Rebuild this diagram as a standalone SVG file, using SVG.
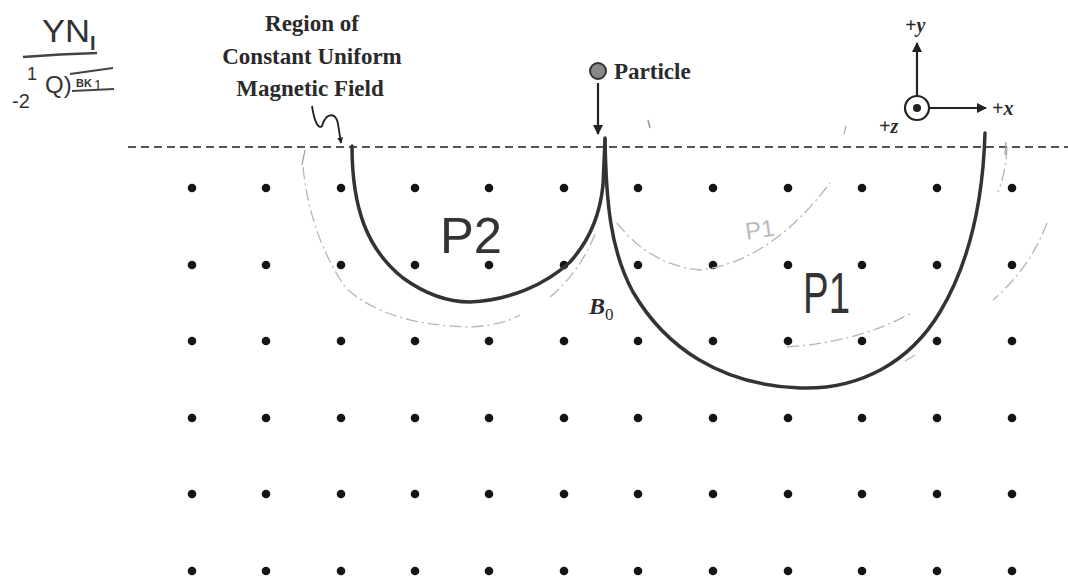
<svg xmlns="http://www.w3.org/2000/svg" width="1068" height="580" viewBox="0 0 1068 580">
<style>
.lbl{font-family:"Liberation Serif",serif;font-weight:bold;font-size:23px;fill:#2a2a2a}
.ax{font-family:"Liberation Serif",serif;font-style:italic;font-weight:bold;font-size:20px;fill:#2a2a2a}
.hand{font-family:"Liberation Sans",sans-serif;fill:#333}
.path{fill:none;stroke:#333;stroke-width:3.5;stroke-linecap:round;stroke-linejoin:round}
.faint{fill:none;stroke:#b5b5b5;stroke-width:1.3;stroke-dasharray:12 4 2 4}
.dot{fill:#151515}
.ln{stroke:#222;stroke-width:2.2;fill:none}
</style>
<defs>
<marker id="ah" viewBox="0 0 10 10" refX="9" refY="5" markerWidth="6" markerHeight="6" orient="auto" markerUnits="userSpaceOnUse">
<path d="M0,0 L10,5 L0,10 z" fill="#222"/>
</marker>
<marker id="ahb" viewBox="0 0 10 10" refX="9" refY="5" markerWidth="14" markerHeight="10" orient="auto" markerUnits="userSpaceOnUse">
<path d="M0,0 L10,5 L0,10 z" fill="#222"/>
</marker>
</defs>
<rect width="1068" height="580" fill="#fff"/>

<g id="handwriting-note">
<text class="hand" x="42" y="42" font-size="32" fill="#444" textLength="48" lengthAdjust="spacingAndGlyphs">YN</text>
<text class="hand" x="90" y="50" font-size="20" font-weight="bold" fill="#444">I</text>
<path d="M23,57 Q60,54 97,53" stroke="#444" stroke-width="2.5" fill="none"/>
<text class="hand" x="27" y="80" font-size="18" fill="#444">1</text>
<text class="hand" x="12" y="108" font-size="20" fill="#444">-2</text>
<text class="hand" x="45" y="93" font-size="24" fill="#444">Q)</text>
<path d="M70,74 L113,68" stroke="#444" stroke-width="2" fill="none"/>
<text class="hand" x="76" y="87" font-size="11" font-weight="bold" fill="#444">BK</text>
<text class="hand" x="94" y="90" font-size="14" fill="#444">1</text>
<path d="M72,91 L114,89" stroke="#444" stroke-width="2" fill="none"/>
</g>

<g id="field-label">
<text class="lbl" x="312" y="31" text-anchor="middle">Region of</text>
<text class="lbl" x="312" y="64" text-anchor="middle">Constant Uniform</text>
<text class="lbl" x="310" y="96" text-anchor="middle">Magnetic Field</text>
</g>

<g id="boundary">
<line x1="128" y1="147" x2="1068" y2="147" stroke="#555" stroke-width="2" stroke-dasharray="8 5"/>
</g>

<g id="dots">
<g class="dot">
<circle cx="192" cy="188" r="4.3"/><circle cx="266" cy="188" r="4.3"/><circle cx="341" cy="188" r="4.3"/><circle cx="415" cy="188" r="4.3"/><circle cx="489" cy="188" r="4.3"/><circle cx="564" cy="188" r="4.3"/><circle cx="638" cy="188" r="4.3"/><circle cx="713" cy="188" r="4.3"/><circle cx="788" cy="188" r="4.3"/><circle cx="862" cy="188" r="4.3"/><circle cx="937" cy="188" r="4.3"/><circle cx="1012" cy="188" r="4.3"/>
<circle cx="192" cy="265" r="4.3"/><circle cx="266" cy="265" r="4.3"/><circle cx="341" cy="265" r="4.3"/><circle cx="415" cy="265" r="4.3"/><circle cx="489" cy="265" r="4.3"/><circle cx="564" cy="265" r="4.3"/><circle cx="638" cy="265" r="4.3"/><circle cx="713" cy="265" r="4.3"/><circle cx="788" cy="265" r="4.3"/><circle cx="862" cy="265" r="4.3"/><circle cx="937" cy="265" r="4.3"/><circle cx="1012" cy="265" r="4.3"/>
<circle cx="192" cy="341" r="4.3"/><circle cx="266" cy="341" r="4.3"/><circle cx="341" cy="341" r="4.3"/><circle cx="415" cy="341" r="4.3"/><circle cx="489" cy="341" r="4.3"/><circle cx="564" cy="341" r="4.3"/><circle cx="638" cy="341" r="4.3"/><circle cx="713" cy="341" r="4.3"/><circle cx="788" cy="341" r="4.3"/><circle cx="862" cy="341" r="4.3"/><circle cx="937" cy="341" r="4.3"/><circle cx="1012" cy="341" r="4.3"/>
<circle cx="192" cy="418" r="4.3"/><circle cx="266" cy="418" r="4.3"/><circle cx="341" cy="418" r="4.3"/><circle cx="415" cy="418" r="4.3"/><circle cx="489" cy="418" r="4.3"/><circle cx="564" cy="418" r="4.3"/><circle cx="638" cy="418" r="4.3"/><circle cx="713" cy="418" r="4.3"/><circle cx="788" cy="418" r="4.3"/><circle cx="862" cy="418" r="4.3"/><circle cx="937" cy="418" r="4.3"/><circle cx="1012" cy="418" r="4.3"/>
<circle cx="192" cy="494" r="4.3"/><circle cx="266" cy="494" r="4.3"/><circle cx="341" cy="494" r="4.3"/><circle cx="415" cy="494" r="4.3"/><circle cx="489" cy="494" r="4.3"/><circle cx="564" cy="494" r="4.3"/><circle cx="638" cy="494" r="4.3"/><circle cx="713" cy="494" r="4.3"/><circle cx="788" cy="494" r="4.3"/><circle cx="862" cy="494" r="4.3"/><circle cx="937" cy="494" r="4.3"/><circle cx="1012" cy="494" r="4.3"/>
<circle cx="192" cy="571" r="4.3"/><circle cx="266" cy="571" r="4.3"/><circle cx="341" cy="571" r="4.3"/><circle cx="415" cy="571" r="4.3"/><circle cx="489" cy="571" r="4.3"/><circle cx="564" cy="571" r="4.3"/><circle cx="638" cy="571" r="4.3"/><circle cx="713" cy="571" r="4.3"/><circle cx="788" cy="571" r="4.3"/><circle cx="862" cy="571" r="4.3"/><circle cx="937" cy="571" r="4.3"/><circle cx="1012" cy="571" r="4.3"/>
</g>
</g>

<g id="faint-sketches">
<path class="faint" d="M303,167 Q310,235 345,287 Q385,325 470,327 Q503,325 520,315"/>
<path class="faint" d="M550,297 Q580,272 596,232"/>
<path class="faint" d="M617,223 Q650,265 700,270 Q770,262 830,183"/>
<path class="faint" d="M787,347 Q860,342 913,312"/>
<path class="faint" d="M1007,147 Q1006,172 998,192"/>
<path class="faint" d="M1047,223 Q1030,268 993,300"/>
<path class="faint" d="M915,355 L905,361"/>
<path d="M305,150 L302,165" stroke="#999" stroke-width="1.2"/>
<path d="M648,120 L650,128" stroke="#999" stroke-width="1.5"/>
<path d="M846,126 L844,134" stroke="#aaa" stroke-width="1.2"/>
<path d="M1006,142 L1005,155" stroke="#999" stroke-width="1.2"/>
<text x="745" y="237" font-family="Liberation Sans,sans-serif" font-size="24" fill="#bbb" transform="rotate(-8 765 228)">P1</text>
</g>

<g id="trajectory-P2">
<path class="path" d="M352,146 C352,210 368,250 403,278 C428,296 450,302 470,302 C510,300 545,285 570,262 C590,240 600,215 603,185 L605,140"/>
<text class="hand" x="440" y="253" font-size="50" font-weight="300" textLength="62" lengthAdjust="spacingAndGlyphs">P2</text>
</g>

<g id="trajectory-P1">
<path class="path" d="M605,138 C606,200 610,250 633,292 C665,347 720,385 800,388 C860,390 910,362 940,312 C970,262 983,200 985,133"/>
<text class="hand" x="803" y="313" font-size="58" font-weight="300" textLength="47" lengthAdjust="spacingAndGlyphs">P1</text>
</g>

<g id="particle">
<circle cx="598" cy="71" r="8" fill="#888" stroke="#333" stroke-width="2"/>
<text class="lbl" x="614" y="79">Particle</text>
</g>

<g id="B0-label">
<text x="589" y="314" font-family="Liberation Serif,serif" font-style="italic" font-weight="bold" font-size="24" fill="#2a2a2a">B</text>
<text x="605" y="320" font-family="Liberation Serif,serif" font-size="17" fill="#2a2a2a">0</text>
</g>

<g id="axes">
<circle cx="917" cy="108" r="12" fill="none" stroke="#222" stroke-width="2.2"/>
<circle cx="917" cy="108" r="4" fill="#222"/>
<text class="ax" x="905" y="32">+y</text>
<text class="ax" x="992" y="115">+x</text>
<text class="ax" x="879" y="133">+z</text>
</g>

<g id="connectors">
<path class="ln" d="M917,95 L917,43" marker-end="url(#ahb)"/>
<path class="ln" d="M930,108 L986,108" marker-end="url(#ahb)"/>
<path class="ln" d="M598,83 L598,134" marker-end="url(#ahb)"/>
<path d="M312,106 C314,120 318,130 322,126 C326,112 336,112 338,124 L341,143" stroke="#222" stroke-width="1.8" fill="none" marker-end="url(#ah)"/>
</g>
</svg>
